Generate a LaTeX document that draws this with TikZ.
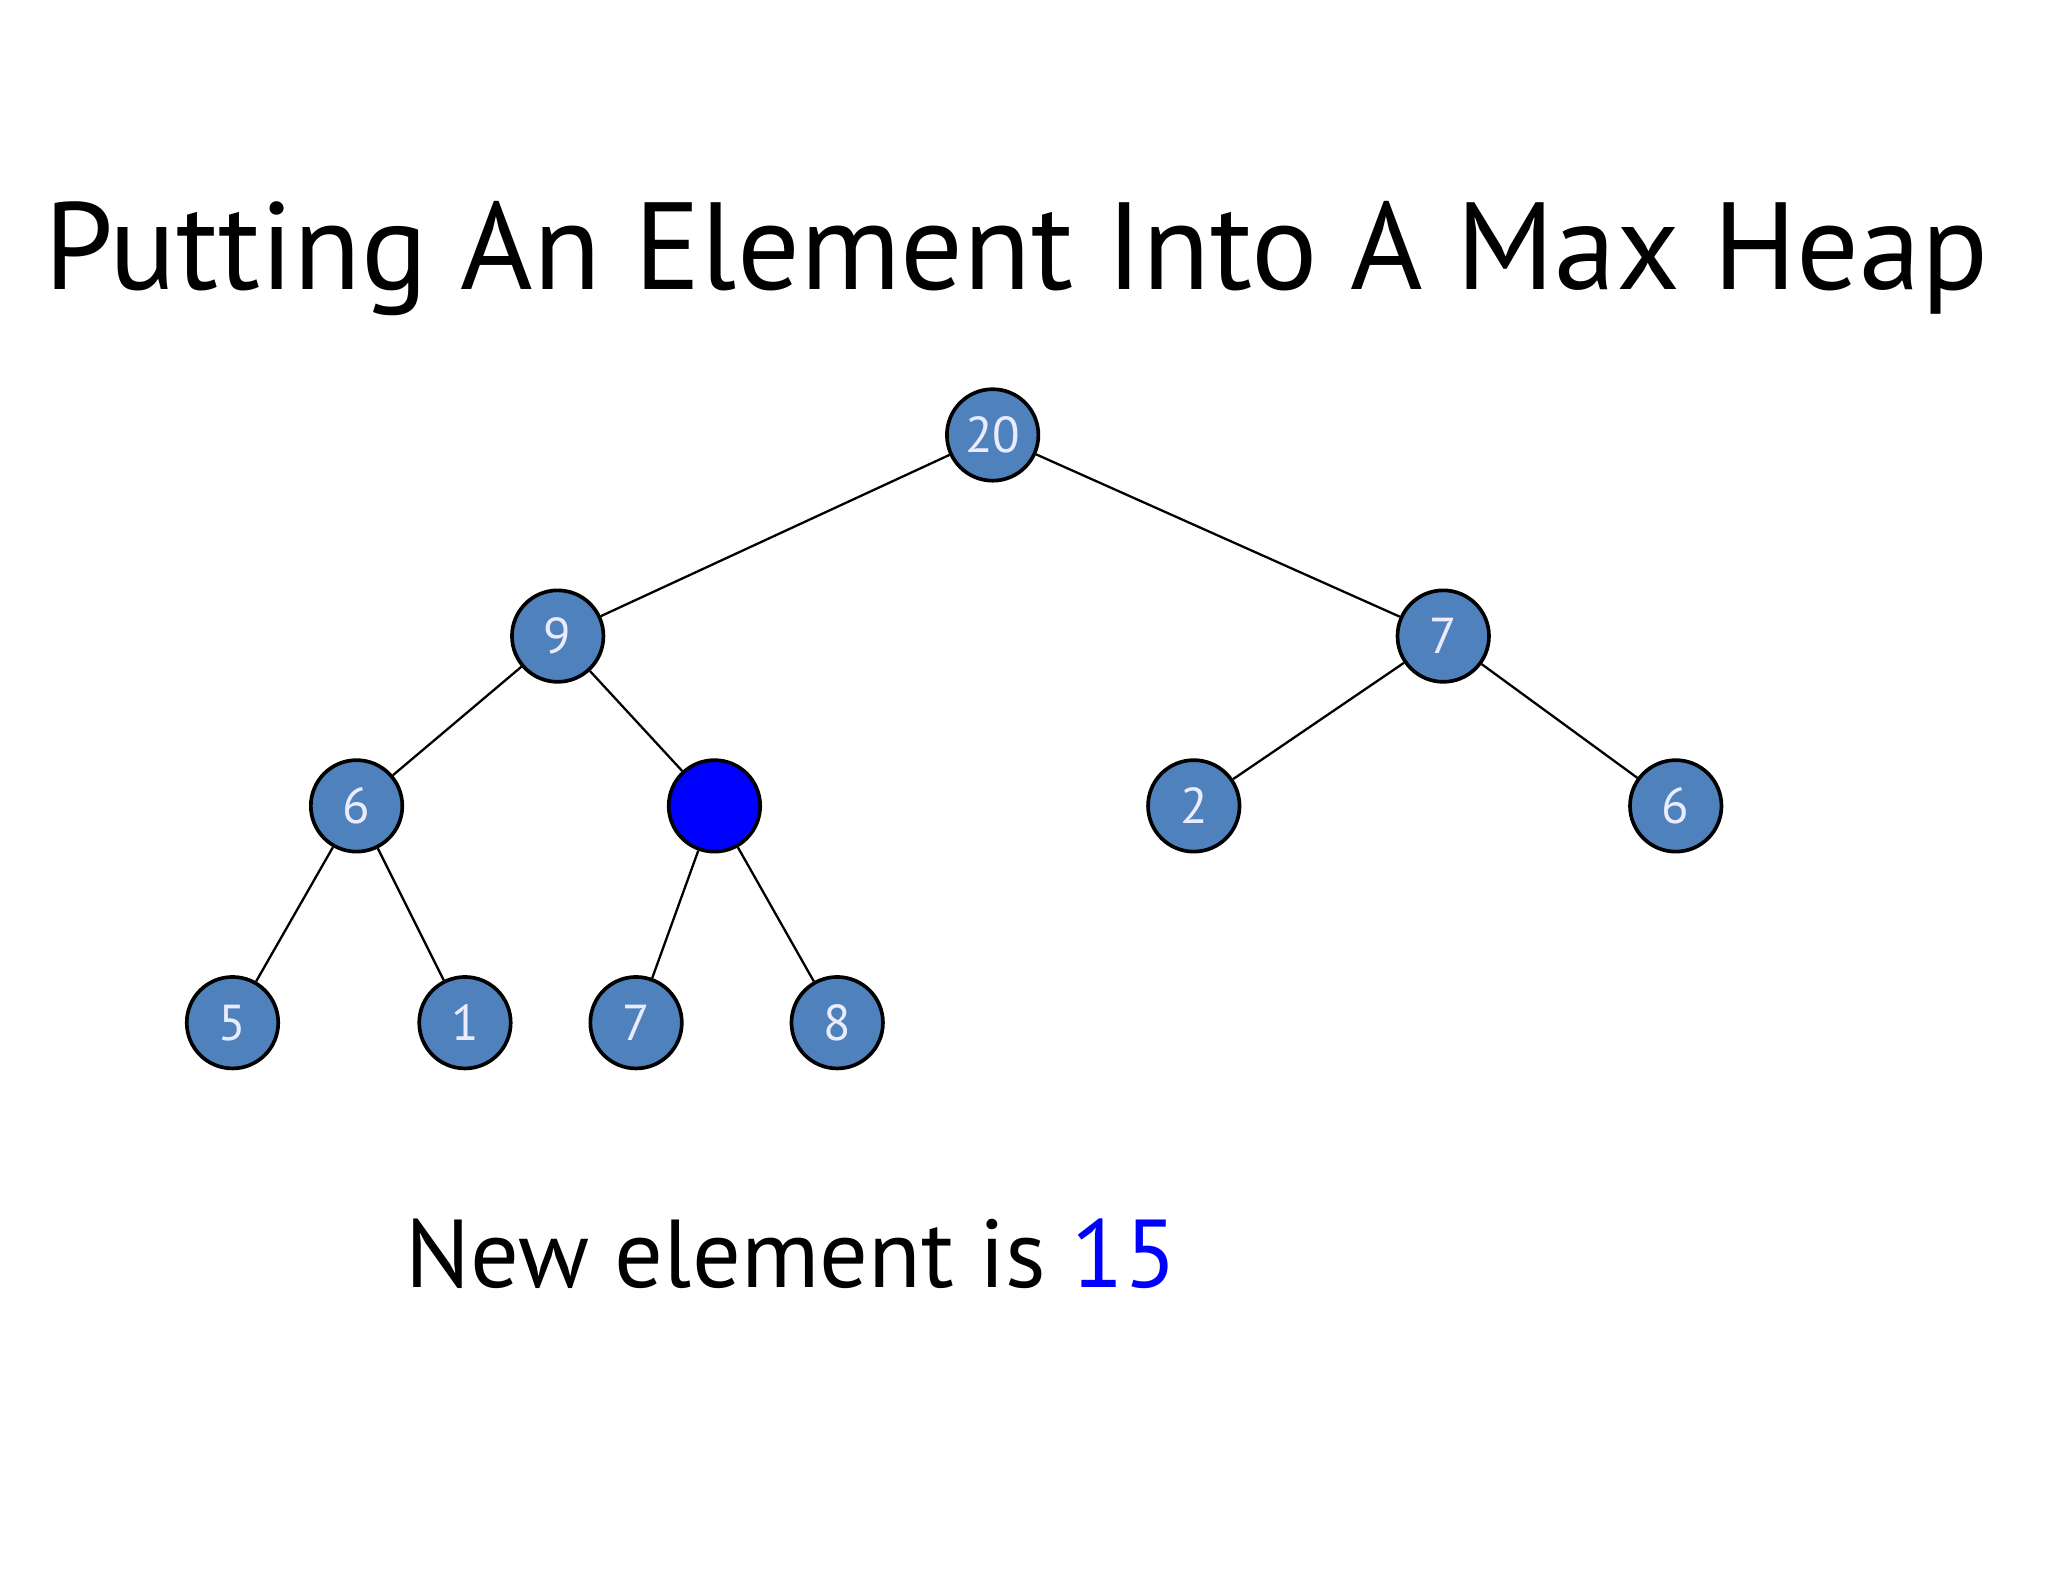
\documentclass[tikz,border=0pt]{standalone}
\usepackage{fontspec}
\setmainfont{PT Sans}
\definecolor{nodefill}{HTML}{4F81BD}
\definecolor{newblue}{HTML}{0000FF}
\begin{document}
\begin{tikzpicture}[x=0.01cm,y=-0.01cm,
  hn/.style={circle,draw=black,thick,fill=nodefill,minimum size=0.7cm,inner sep=0pt,text=white!92!blue,font=\fontsize{11}{13}\selectfont},
  edge/.style={draw=black,line width=0.5pt}]
\useasboundingbox (0,0) rectangle (1568,1211);
\node[font=\fontsize{27}{32}\selectfont] (title) at (778,198) {Putting An Element Into A Max Heap};
\node[hn] (r) at (760,333) {20};
\node[hn] (a) at (427,487) {9};
\node[hn] (b) at (1105,487) {7};
\node[hn] (c) at (273,617) {6};
\node[hn,fill=newblue] (d) at (547,617) {};
\node[hn] (e) at (914,617) {2};
\node[hn] (f) at (1283,617) {6};
\node[hn] (g) at (178,783) {5};
\node[hn] (h) at (356,783) {1};
\node[hn] (i) at (487,783) {7};
\node[hn] (j) at (641,783) {8};
\draw[edge] (r) -- (a); \draw[edge] (r) -- (b);
\draw[edge] (a) -- (c); \draw[edge] (a) -- (d);
\draw[edge] (b) -- (e); \draw[edge] (b) -- (f);
\draw[edge] (c) -- (g); \draw[edge] (c) -- (h);
\draw[edge] (d) -- (i); \draw[edge] (d) -- (j);
\node[anchor=west,font=\fontsize{21}{25}\selectfont] (txt) at (298,960) {New element is \textcolor{newblue}{15}};
\end{tikzpicture}
\end{document}
